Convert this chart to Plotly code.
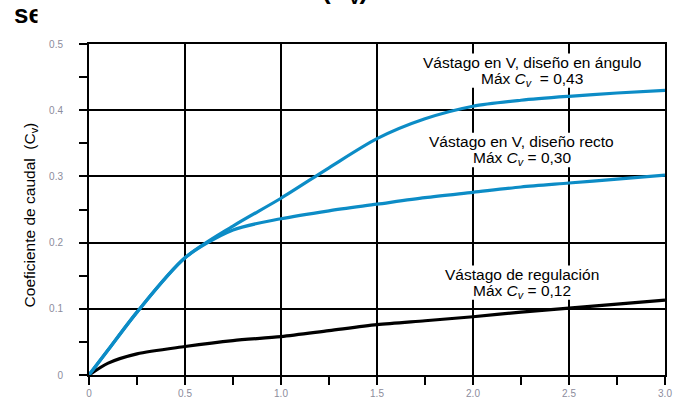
import plotly.graph_objects as go

# Data
x_vals = [0, 0.1, 0.25, 0.5, 0.75, 1.0, 1.25, 1.5, 1.75, 2.0, 2.25, 2.5, 2.75, 3.0]
cv_angle = [0, 0.038, 0.095, 0.177, 0.225, 0.267, 0.313, 0.357, 0.387, 0.406, 0.415, 0.421, 0.426, 0.430]
cv_straight = [0, 0.038, 0.095, 0.177, 0.219, 0.236, 0.248, 0.258, 0.268, 0.276, 0.284, 0.290, 0.296, 0.302]
cv_regulation = [0, 0.018, 0.032, 0.043, 0.052, 0.058, 0.067, 0.076, 0.082, 0.088, 0.095, 0.101, 0.107, 0.113]

x_tickvals = [0, 0.5, 1.0, 1.5, 2.0, 2.5, 3.0]
x_ticktext = ["0", "0.5", "1.0", "1.5", "2.0", "2.5", "3.0"]
y_tickvals = [0, 0.1, 0.2, 0.3, 0.4, 0.5]
y_ticktext = ["0", "0.1", "0.2", "0.3", "0.4", "0.5"]

# (line 1, line 2, centre x, line-1 y, line-2 y, half width of white box)
labels = [
    ("Vástago en V, diseño en ángulo", "Máx <i>C<sub>v</sub></i>  = 0,43", 2.307, 0.4727, 0.447, 0.60),
    ("Vástago en V, diseño recto", "Máx <i>C<sub>v</sub></i> = 0,30", 2.255, 0.353, 0.327, 0.51),
    ("Vástago de regulación", "Máx <i>C<sub>v</sub></i> = 0,12", 2.255, 0.1525, 0.1265, 0.43),
]

BLUE = "rgb(12,140,198)"
FONT = "Arial, Liberation Sans, sans-serif"

fig = go.Figure()
fig.add_trace(go.Scatter(x=x_vals, y=cv_regulation, mode="lines",
                         line=dict(color="black", width=3.2, shape="spline", smoothing=0.8), showlegend=False))
fig.add_trace(go.Scatter(x=x_vals, y=cv_straight, mode="lines",
                         line=dict(color=BLUE, width=3.2, shape="spline", smoothing=0.8), showlegend=False))
fig.add_trace(go.Scatter(x=x_vals, y=cv_angle, mode="lines",
                         line=dict(color=BLUE, width=3.2, shape="spline", smoothing=0.8), showlegend=False))

annotations = []
shapes = []
for l1, l2, xc, y1, y2, hw in labels:
    shapes.append(dict(type="rect", xref="x", yref="y", layer="between",
                       x0=xc - hw, x1=xc + hw, y0=y2 - 0.013, y1=y1 + 0.013,
                       fillcolor="white", line=dict(width=0)))
    annotations.append(dict(x=xc, y=y1, xref="x", yref="y", text=l1, showarrow=False,
                            font=dict(family=FONT, size=15.5, color="black"),
                            xanchor="center", yanchor="middle"))
    annotations.append(dict(x=xc, y=y2, xref="x", yref="y", text=l2, showarrow=False,
                            font=dict(family=FONT, size=15.5, color="black"),
                            xanchor="center", yanchor="middle"))

# Y axis title
annotations.append(dict(x=-0.102, y=0.483, xref="paper", yref="paper",
                        text="Coeficiente de caudal  (C<sub>v</sub>)", textangle=-90,
                        showarrow=False, font=dict(family=FONT, size=15.5, color="black"),
                        xanchor="center", yanchor="middle"))
# Clipped title fragments
annotations.append(dict(x=-0.134, y=1.040, xref="paper", yref="paper", text="<b>se</b>",
                        showarrow=False, font=dict(family=FONT, size=26, color="black"),
                        xanchor="left", yanchor="bottom"))
# white mask cutting the title fragment, as in the picture
annotations.append(dict(x=(37 - 89) / 576, y=(375 - 4) / 331, xref="paper", yref="paper", text=" ",
                        showarrow=False, width=40, height=34, bgcolor="white",
                        xanchor="left", yanchor="top", borderpad=0))
annotations.append(dict(x=0.445, y=1.104, xref="paper", yref="paper", text="<b>(C<sub>v</sub>)</b>",
                        showarrow=False, font=dict(family=FONT, size=26, color="black"),
                        xanchor="center", yanchor="bottom"))

fig.update_layout(
    width=694, height=404,
    margin=dict(l=89, r=29, t=44, b=29, autoexpand=False),
    paper_bgcolor="white", plot_bgcolor="white",
    annotations=annotations, shapes=shapes,
    font=dict(family=FONT),
)
fig.update_xaxes(range=[0, 3], tickvals=x_tickvals, ticktext=x_ticktext, automargin=False,
                 showgrid=True, gridcolor="black", gridwidth=1.6,
                 showline=True, linecolor="black", linewidth=2, mirror=True,
                 ticks="outside", ticklen=8, tickcolor="black", tickwidth=1.6,
                 minor=dict(dtick=0.25, tick0=0, ticks="outside", ticklen=8, tickcolor="black", tickwidth=1.6, showgrid=False),
                 tickfont=dict(family=FONT, size=10, color="#8c8c9c"),
                 zeroline=False, fixedrange=True)
fig.update_yaxes(range=[0, 0.5], tickvals=y_tickvals, ticktext=y_ticktext, automargin=False,
                 showgrid=True, gridcolor="black", gridwidth=1.6,
                 showline=True, linecolor="black", linewidth=2, mirror=True,
                 ticks="outside", ticklen=8, tickcolor="black", tickwidth=1.6,
                 minor=dict(dtick=0.05, tick0=0, ticks="outside", ticklen=8, tickcolor="black", tickwidth=1.6, showgrid=False),
                 tickfont=dict(family=FONT, size=10, color="#8c8c9c"),
                 ticklabelstandoff=14,
                 zeroline=False, fixedrange=True)

fig.write_html("out.html", config={"displayModeBar": False},
               post_script="document.body.style.margin='0';document.body.style.overflow='hidden';")
